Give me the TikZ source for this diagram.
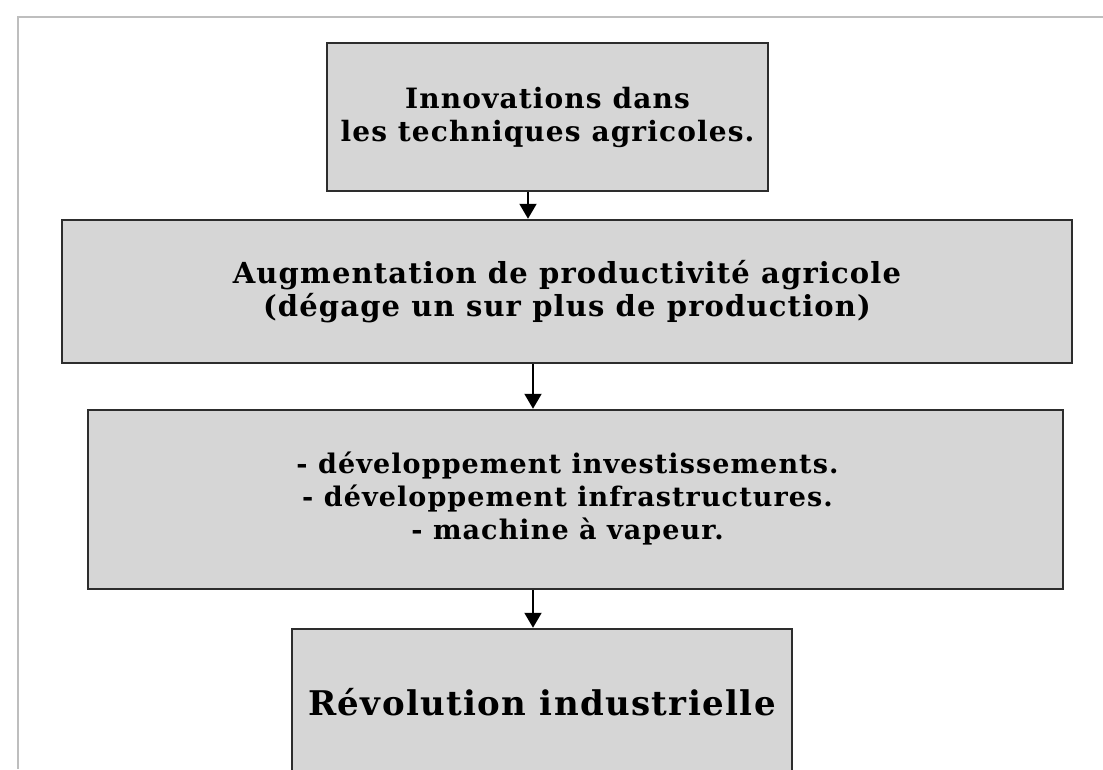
\documentclass[tikz,border=0pt]{standalone}
\usepackage{fontspec}
\usetikzlibrary{arrows.meta}
\newfontfamily\boxfont{DejaVu Serif}[LetterSpace=4]
\definecolor{boxfill}{RGB}{214,214,214}
\definecolor{boxline}{RGB}{45,45,45}
\definecolor{framegray}{RGB}{190,190,190}
\newcommand{\boxtext}[1]{\boxfont\bfseries\fontsize{#1}{33}\selectfont}
\tikzset{
  stagebox/.style={draw=boxline, line width=2.5pt, fill=boxfill, inner sep=0pt,
    align=center, font=\boxtext{27}},
  flowarrow/.style={draw=black, line width=2pt,
    -{Triangle[length=15pt,width=17pt]}},
  frameline/.style={draw=framegray, line width=2pt}
}
\begin{document}
\begin{tikzpicture}[x=1pt,y=-1pt]
  \clip (0,0) rectangle (1103,769);
  \fill[white] (0,0) rectangle (1103,769);
  % page frame
  \draw[frameline] (1103,17) -- (18,17) -- (18,769);

  % stages
  \node[stagebox, minimum width=441pt, minimum height=148pt, font=\boxtext{28}]
    (b1) at (547.5,117)
    {Innovations dans\\les techniques agricoles.};
  \node[stagebox, minimum width=1010pt, minimum height=143pt, font=\boxtext{29}]
    (b2) at (567,291.5)
    {Augmentation de productivité agricole\\(dégage un sur plus de production)};
  \node[stagebox, minimum width=975pt, minimum height=179pt] (b3) at (575.5,499.5)
    {\hspace*{-16pt}\begin{tabular}{@{}c@{}}
      - développement investissements.\\
      - développement infrastructures.\\
      - machine à vapeur.
    \end{tabular}};
  \node[stagebox, minimum width=500pt, minimum height=146pt,
    font=\boxfont\bfseries\fontsize{34}{40}\selectfont] (b4) at (542,702)
    {Révolution industrielle};

  % arrow columns
  \coordinate (c1) at (528,0);
  \coordinate (c2) at (533,0);

  \draw[flowarrow] (b1.south -| c1) -- (b2.north -| c1);
  \draw[flowarrow] (b2.south -| c2) -- (b3.north -| c2);
  \draw[flowarrow] (b3.south -| c2) -- (b4.north -| c2);
\end{tikzpicture}
\end{document}
